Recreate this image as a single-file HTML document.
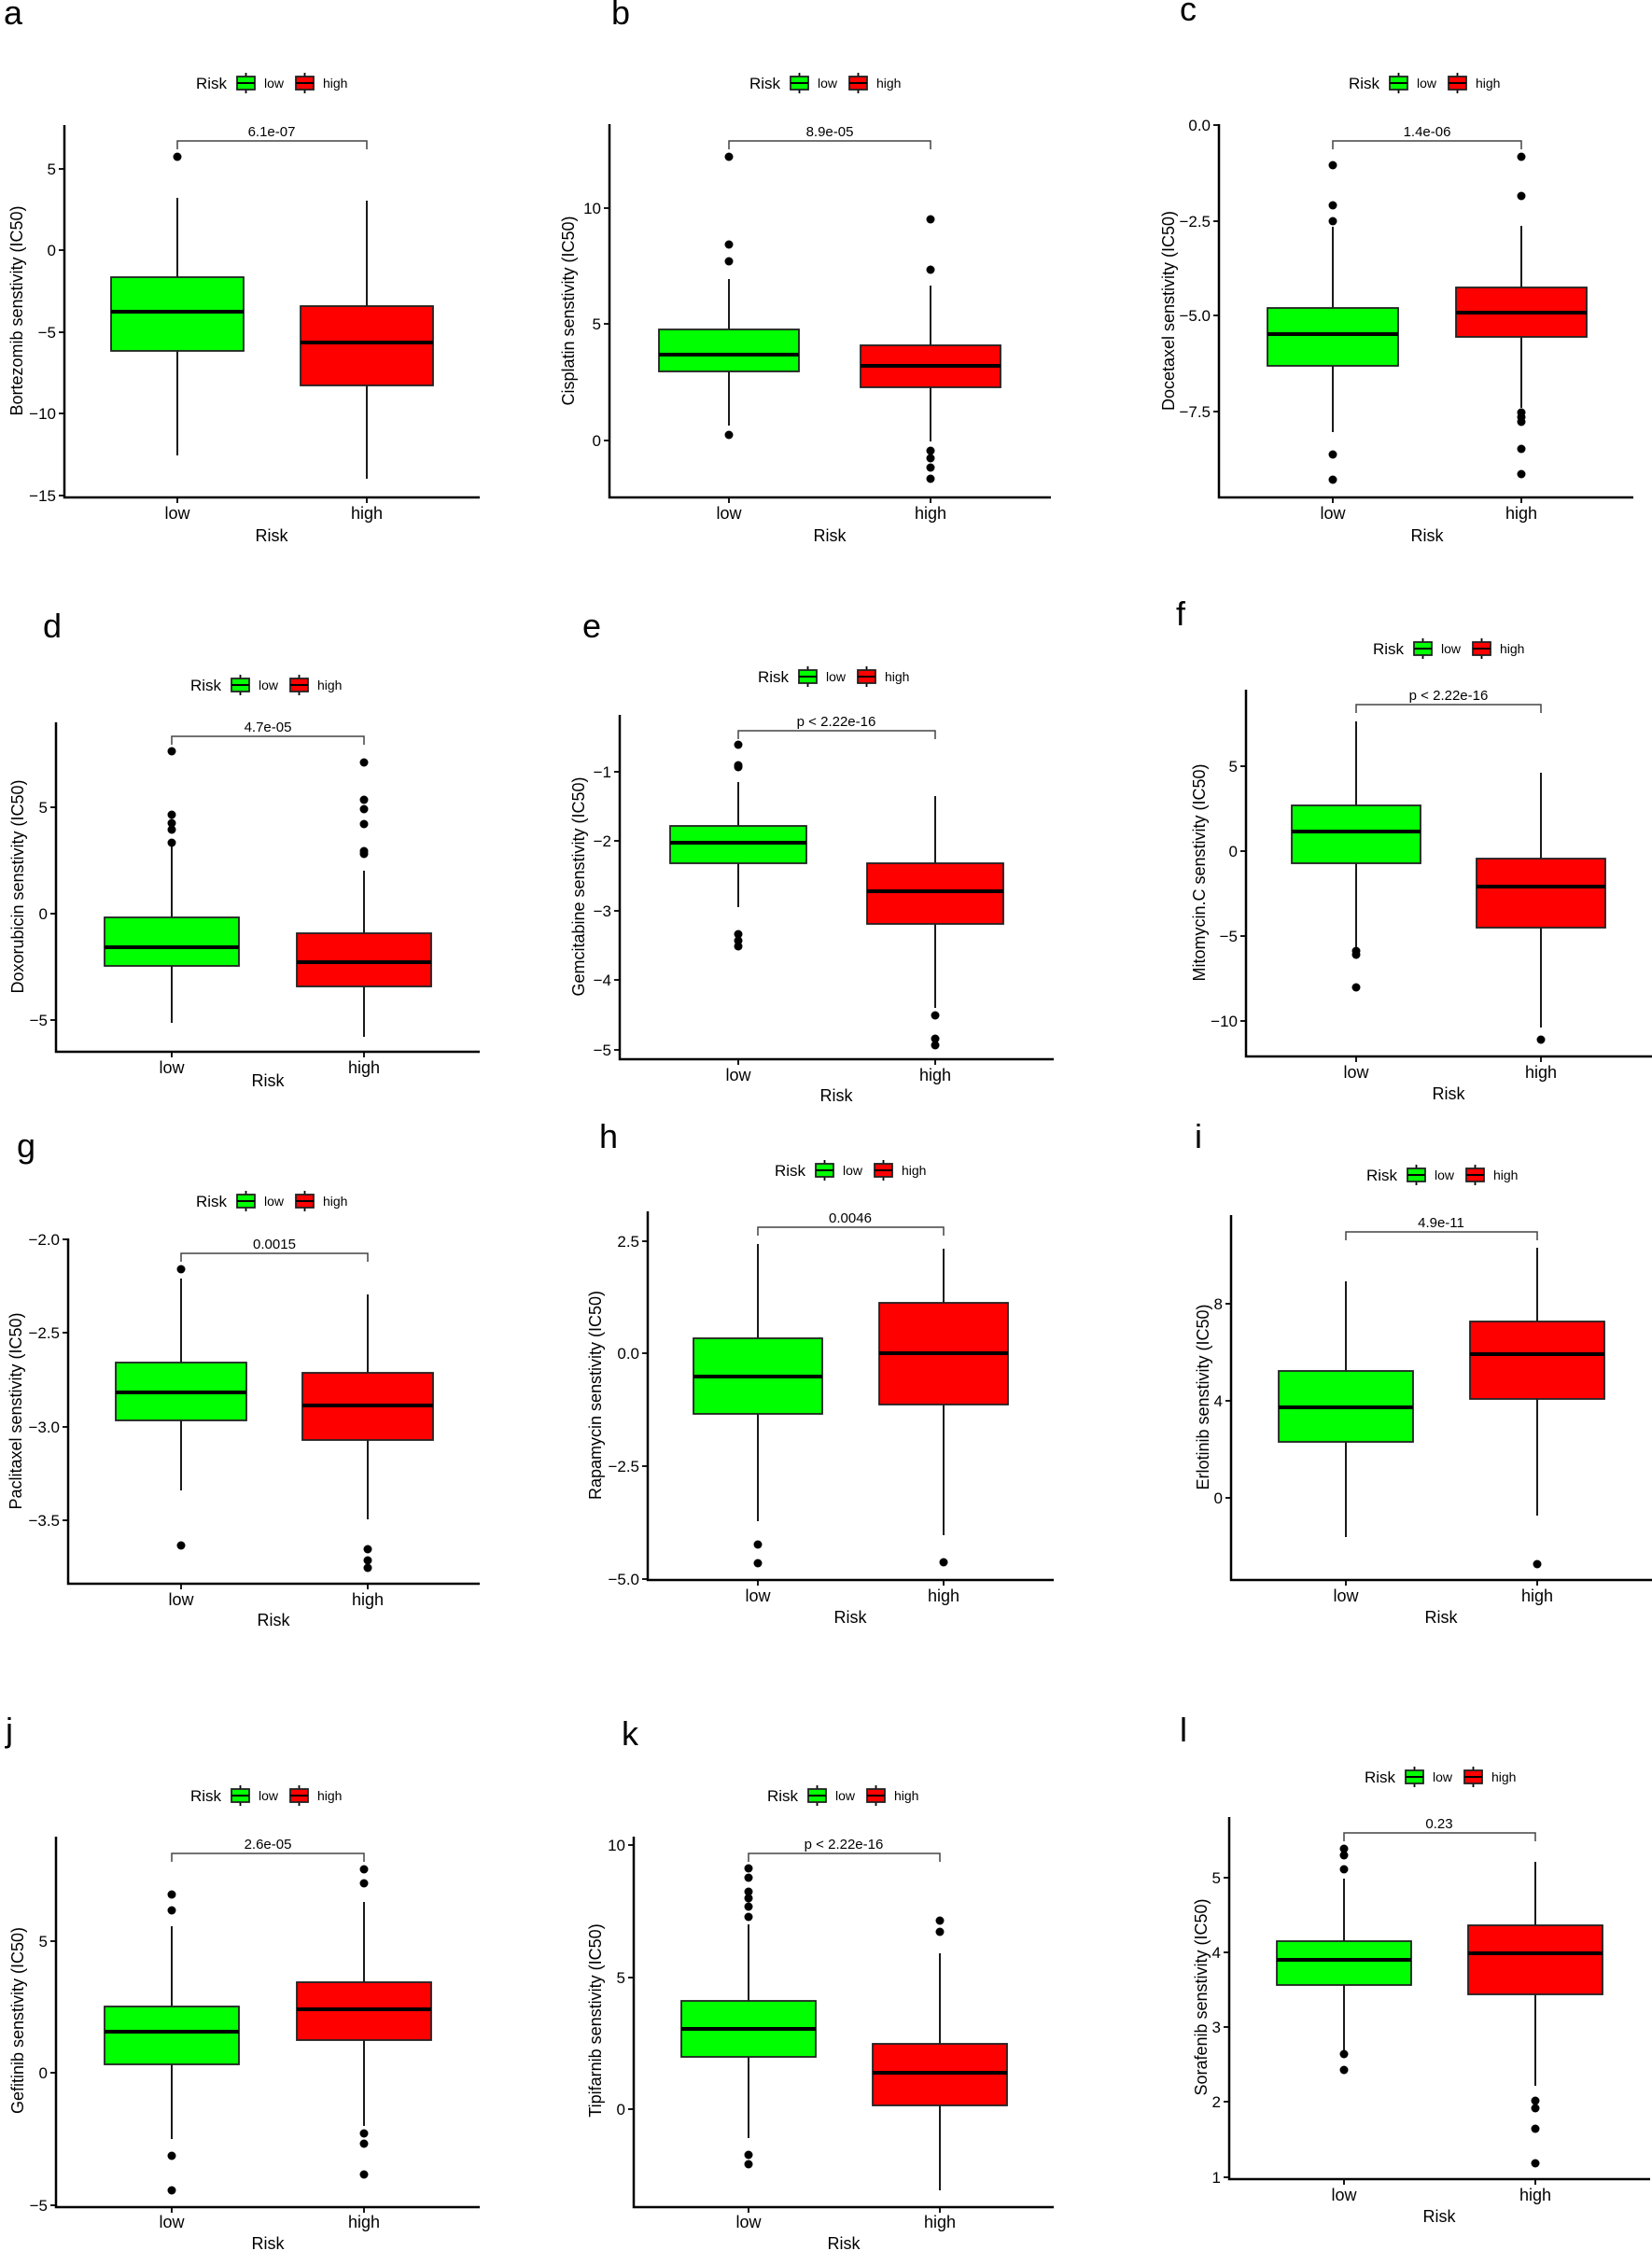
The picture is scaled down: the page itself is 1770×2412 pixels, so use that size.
<!DOCTYPE html>
<html><head><meta charset="utf-8"><style>
html,body{margin:0;padding:0;background:#fff}
svg{display:block}
text{font-family:"Liberation Sans",Arial,sans-serif;fill:#000}
.t{font-size:17px}
.yt{font-size:17px;text-anchor:end}
.xt{font-size:18px;text-anchor:middle}
.ttl{font-size:18px;text-anchor:middle}
.p{font-size:15px;text-anchor:middle}
.lab{font-size:36px}
.ax{stroke:#000;stroke-width:2.5;fill:none}
.w{stroke:#000;stroke-width:1.8}
.br{stroke:#444;stroke-width:1.5;fill:none}
.g{fill:#00ff00;stroke:#222;stroke-width:1.8}
.r{fill:#ff0000;stroke:#222;stroke-width:1.8}
.m{stroke:#000;stroke-width:4}
</style></head><body>
<svg width="1770" height="2412" viewBox="0 0 1770 2412" xmlns="http://www.w3.org/2000/svg">
<defs>
<g id="leg">
<line x1="53.5" y1="-11" x2="53.5" y2="11" class="w"/>
<rect x="44" y="-7" width="19" height="14" class="g"/><line x1="44" y1="0" x2="63" y2="0" stroke="#000" stroke-width="2"/>
<line x1="116.5" y1="-11" x2="116.5" y2="11" class="w"/>
<rect x="107" y="-7" width="19" height="14" class="r"/><line x1="107" y1="0" x2="126" y2="0" stroke="#000" stroke-width="2"/>
</g>
</defs>

<!-- Panel a -->
<text x="4" y="26" class="lab">a</text>
<use href="#leg" x="210" y="89"/><text x="210" y="95" class="t">Risk</text><text x="283" y="94" font-size="14">low</text><text x="346" y="94" font-size="14">high</text>
<path class="ax" d="M69 134 V533 H514"/>
<g class="w"><line x1="63" y1="181" x2="69" y2="181"/><line x1="63" y1="268" x2="69" y2="268"/><line x1="63" y1="356" x2="69" y2="356"/><line x1="63" y1="443" x2="69" y2="443"/><line x1="63" y1="531" x2="69" y2="531"/><line x1="190" y1="533" x2="190" y2="539"/><line x1="393" y1="533" x2="393" y2="539"/></g>
<text x="60" y="187" class="yt">5</text><text x="60" y="274" class="yt">0</text><text x="60" y="362" class="yt">−5</text><text x="60" y="449" class="yt">−10</text><text x="60" y="537" class="yt">−15</text>
<text x="190" y="556" class="xt">low</text><text x="393" y="556" class="xt">high</text><text x="291" y="580" class="ttl">Risk</text>
<text transform="translate(24,333) rotate(-90)" class="ttl">Bortezomib senstivity (IC50)</text>
<path class="br" d="M190 160 V151 H393 V160"/><text x="291" y="146" class="p">6.1e-07</text>
<line x1="190" y1="212" x2="190" y2="488" class="w"/><rect x="119" y="297" width="142" height="79" class="g"/><line x1="119" y1="334" x2="261" y2="334" class="m"/>
<line x1="393" y1="215" x2="393" y2="513" class="w"/><rect x="322" y="328" width="142" height="85" class="r"/><line x1="322" y1="367" x2="464" y2="367" class="m"/>
<circle cx="190" cy="168" r="4.5"/>

<!-- Panel b -->
<text x="655" y="26" class="lab">b</text>
<use href="#leg" x="803" y="89"/><text x="803" y="95" class="t">Risk</text><text x="876" y="94" font-size="14">low</text><text x="939" y="94" font-size="14">high</text>
<path class="ax" d="M653 133 V533 H1126"/>
<g class="w"><line x1="647" y1="223" x2="653" y2="223"/><line x1="647" y1="347" x2="653" y2="347"/><line x1="647" y1="472" x2="653" y2="472"/><line x1="781" y1="533" x2="781" y2="539"/><line x1="997" y1="533" x2="997" y2="539"/></g>
<text x="644" y="229" class="yt">10</text><text x="644" y="353" class="yt">5</text><text x="644" y="478" class="yt">0</text>
<text x="781" y="556" class="xt">low</text><text x="997" y="556" class="xt">high</text><text x="889" y="580" class="ttl">Risk</text>
<text transform="translate(615,333) rotate(-90)" class="ttl">Cisplatin senstivity (IC50)</text>
<path class="br" d="M781 160 V151 H997 V160"/><text x="889" y="146" class="p">8.9e-05</text>
<line x1="781" y1="299" x2="781" y2="456" class="w"/><rect x="706" y="353" width="150" height="45" class="g"/><line x1="706" y1="380" x2="856" y2="380" class="m"/>
<line x1="997" y1="306" x2="997" y2="473" class="w"/><rect x="922" y="370" width="150" height="45" class="r"/><line x1="922" y1="392" x2="1072" y2="392" class="m"/>
<circle cx="781" cy="168" r="4.5"/><circle cx="781" cy="262" r="4.5"/><circle cx="781" cy="280" r="4.5"/><circle cx="781" cy="466" r="4.5"/>
<circle cx="997" cy="235" r="4.5"/><circle cx="997" cy="289" r="4.5"/><circle cx="997" cy="483" r="4.5"/><circle cx="997" cy="491" r="4.5"/><circle cx="997" cy="501" r="4.5"/><circle cx="997" cy="513" r="4.5"/>

<!-- Panel c -->
<text x="1264" y="22" class="lab">c</text>
<use href="#leg" x="1445" y="89"/><text x="1445" y="95" class="t">Risk</text><text x="1518" y="94" font-size="14">low</text><text x="1581" y="94" font-size="14">high</text>
<path class="ax" d="M1306 133 V533 H1750"/>
<g class="w"><line x1="1300" y1="134" x2="1306" y2="134"/><line x1="1300" y1="237" x2="1306" y2="237"/><line x1="1300" y1="338" x2="1306" y2="338"/><line x1="1300" y1="441" x2="1306" y2="441"/><line x1="1428" y1="533" x2="1428" y2="539"/><line x1="1630" y1="533" x2="1630" y2="539"/></g>
<text x="1297" y="140" class="yt">0.0</text><text x="1297" y="243" class="yt">−2.5</text><text x="1297" y="344" class="yt">−5.0</text><text x="1297" y="447" class="yt">−7.5</text>
<text x="1428" y="556" class="xt">low</text><text x="1630" y="556" class="xt">high</text><text x="1529" y="580" class="ttl">Risk</text>
<text transform="translate(1258,333) rotate(-90)" class="ttl">Docetaxel senstivity (IC50)</text>
<path class="br" d="M1428 160 V151 H1630 V160"/><text x="1529" y="146" class="p">1.4e-06</text>
<line x1="1428" y1="243" x2="1428" y2="463" class="w"/><rect x="1358" y="330" width="140" height="62" class="g"/><line x1="1358" y1="358" x2="1498" y2="358" class="m"/>
<line x1="1630" y1="242" x2="1630" y2="437" class="w"/><rect x="1560" y="308" width="140" height="53" class="r"/><line x1="1560" y1="335" x2="1700" y2="335" class="m"/>
<circle cx="1428" cy="177" r="4.5"/><circle cx="1428" cy="220" r="4.5"/><circle cx="1428" cy="237" r="4.5"/><circle cx="1428" cy="487" r="4.5"/><circle cx="1428" cy="514" r="4.5"/>
<circle cx="1630" cy="168" r="4.5"/><circle cx="1630" cy="210" r="4.5"/><circle cx="1630" cy="442" r="4.5"/><circle cx="1630" cy="447" r="4.5"/><circle cx="1630" cy="452" r="4.5"/><circle cx="1630" cy="481" r="4.5"/><circle cx="1630" cy="508" r="4.5"/>

<!-- Panel d -->
<text x="46" y="683" class="lab">d</text>
<use href="#leg" x="204" y="734"/><text x="204" y="740" class="t">Risk</text><text x="277" y="739" font-size="14">low</text><text x="340" y="739" font-size="14">high</text>
<path class="ax" d="M60 774 V1127 H514"/>
<g class="w"><line x1="54" y1="865" x2="60" y2="865"/><line x1="54" y1="979" x2="60" y2="979"/><line x1="54" y1="1093" x2="60" y2="1093"/><line x1="184" y1="1127" x2="184" y2="1133"/><line x1="390" y1="1127" x2="390" y2="1133"/></g>
<text x="51" y="871" class="yt">5</text><text x="51" y="985" class="yt">0</text><text x="51" y="1099" class="yt">−5</text>
<text x="184" y="1150" class="xt">low</text><text x="390" y="1150" class="xt">high</text><text x="287" y="1164" class="ttl">Risk</text>
<text transform="translate(25,950) rotate(-90)" class="ttl">Doxorubicin senstivity (IC50)</text>
<path class="br" d="M184 798 V789 H390 V798"/><text x="287" y="784" class="p">4.7e-05</text>
<line x1="184" y1="903" x2="184" y2="1096" class="w"/><rect x="112" y="983" width="144" height="52" class="g"/><line x1="112" y1="1015" x2="256" y2="1015" class="m"/>
<line x1="390" y1="933" x2="390" y2="1111" class="w"/><rect x="318" y="1000" width="144" height="57" class="r"/><line x1="318" y1="1031" x2="462" y2="1031" class="m"/>
<circle cx="184" cy="805" r="4.5"/><circle cx="184" cy="873" r="4.5"/><circle cx="184" cy="882" r="4.5"/><circle cx="184" cy="889" r="4.5"/><circle cx="184" cy="903" r="4.5"/>
<circle cx="390" cy="817" r="4.5"/><circle cx="390" cy="857" r="4.5"/><circle cx="390" cy="867" r="4.5"/><circle cx="390" cy="883" r="4.5"/><circle cx="390" cy="912" r="4.5"/><circle cx="390" cy="915" r="4.5"/>

<!-- Panel e -->
<text x="624" y="683" class="lab">e</text>
<use href="#leg" x="812" y="725"/><text x="812" y="731" class="t">Risk</text><text x="885" y="730" font-size="14">low</text><text x="948" y="730" font-size="14">high</text>
<path class="ax" d="M664 766 V1135 H1129"/>
<g class="w"><line x1="658" y1="827" x2="664" y2="827"/><line x1="658" y1="901" x2="664" y2="901"/><line x1="658" y1="976" x2="664" y2="976"/><line x1="658" y1="1050" x2="664" y2="1050"/><line x1="658" y1="1125" x2="664" y2="1125"/><line x1="791" y1="1135" x2="791" y2="1141"/><line x1="1002" y1="1135" x2="1002" y2="1141"/></g>
<text x="655" y="833" class="yt">−1</text><text x="655" y="907" class="yt">−2</text><text x="655" y="982" class="yt">−3</text><text x="655" y="1056" class="yt">−4</text><text x="655" y="1131" class="yt">−5</text>
<text x="791" y="1158" class="xt">low</text><text x="1002" y="1158" class="xt">high</text><text x="896" y="1180" class="ttl">Risk</text>
<text transform="translate(626,950) rotate(-90)" class="ttl">Gemcitabine senstivity (IC50)</text>
<path class="br" d="M791 792 V783 H1002 V792"/><text x="896" y="778" class="p">p &lt; 2.22e-16</text>
<line x1="791" y1="838" x2="791" y2="972" class="w"/><rect x="718" y="885" width="146" height="40" class="g"/><line x1="718" y1="903" x2="864" y2="903" class="m"/>
<line x1="1002" y1="853" x2="1002" y2="1080" class="w"/><rect x="929" y="925" width="146" height="65" class="r"/><line x1="929" y1="955" x2="1075" y2="955" class="m"/>
<circle cx="791" cy="798" r="4.5"/><circle cx="791" cy="820" r="4.5"/><circle cx="791" cy="822" r="4.5"/><circle cx="791" cy="1001" r="4.5"/><circle cx="791" cy="1008" r="4.5"/><circle cx="791" cy="1014" r="4.5"/>
<circle cx="1002" cy="1088" r="4.5"/><circle cx="1002" cy="1113" r="4.5"/><circle cx="1002" cy="1120" r="4.5"/>

<!-- Panel f -->
<text x="1260" y="670" class="lab">f</text>
<use href="#leg" x="1471" y="695"/><text x="1471" y="701" class="t">Risk</text><text x="1544" y="700" font-size="14">low</text><text x="1607" y="700" font-size="14">high</text>
<path class="ax" d="M1335 739 V1132 H1770"/>
<g class="w"><line x1="1329" y1="821" x2="1335" y2="821"/><line x1="1329" y1="912" x2="1335" y2="912"/><line x1="1329" y1="1003" x2="1335" y2="1003"/><line x1="1329" y1="1094" x2="1335" y2="1094"/><line x1="1453" y1="1132" x2="1453" y2="1138"/><line x1="1651" y1="1132" x2="1651" y2="1138"/></g>
<text x="1326" y="827" class="yt">5</text><text x="1326" y="918" class="yt">0</text><text x="1326" y="1009" class="yt">−5</text><text x="1326" y="1100" class="yt">−10</text>
<text x="1453" y="1155" class="xt">low</text><text x="1651" y="1155" class="xt">high</text><text x="1552" y="1178" class="ttl">Risk</text>
<text transform="translate(1291,935) rotate(-90)" class="ttl">Mitomycin.C senstivity (IC50)</text>
<path class="br" d="M1453 764 V755 H1651 V764"/><text x="1552" y="750" class="p">p &lt; 2.22e-16</text>
<line x1="1453" y1="773" x2="1453" y2="1016" class="w"/><rect x="1384" y="863" width="138" height="62" class="g"/><line x1="1384" y1="891" x2="1522" y2="891" class="m"/>
<line x1="1651" y1="828" x2="1651" y2="1101" class="w"/><rect x="1582" y="920" width="138" height="74" class="r"/><line x1="1582" y1="950" x2="1720" y2="950" class="m"/>
<circle cx="1453" cy="1019" r="4.5"/><circle cx="1453" cy="1023" r="4.5"/><circle cx="1453" cy="1058" r="4.5"/><circle cx="1651" cy="1114" r="4.5"/>

<!-- Panel g -->
<text x="18" y="1240" class="lab">g</text>
<use href="#leg" x="210" y="1287"/><text x="210" y="1293" class="t">Risk</text><text x="283" y="1292" font-size="14">low</text><text x="346" y="1292" font-size="14">high</text>
<path class="ax" d="M73 1327 V1697 H514"/>
<g class="w"><line x1="67" y1="1328" x2="73" y2="1328"/><line x1="67" y1="1428" x2="73" y2="1428"/><line x1="67" y1="1529" x2="73" y2="1529"/><line x1="67" y1="1629" x2="73" y2="1629"/><line x1="194" y1="1697" x2="194" y2="1703"/><line x1="394" y1="1697" x2="394" y2="1703"/></g>
<text x="64" y="1334" class="yt">−2.0</text><text x="64" y="1434" class="yt">−2.5</text><text x="64" y="1535" class="yt">−3.0</text><text x="64" y="1635" class="yt">−3.5</text>
<text x="194" y="1720" class="xt">low</text><text x="394" y="1720" class="xt">high</text><text x="293" y="1742" class="ttl">Risk</text>
<text transform="translate(23,1512) rotate(-90)" class="ttl">Paclitaxel senstivity (IC50)</text>
<path class="br" d="M194 1352 V1343 H394 V1352"/><text x="294" y="1338" class="p">0.0015</text>
<line x1="194" y1="1370" x2="194" y2="1597" class="w"/><rect x="124" y="1460" width="140" height="62" class="g"/><line x1="124" y1="1492" x2="264" y2="1492" class="m"/>
<line x1="394" y1="1387" x2="394" y2="1628" class="w"/><rect x="324" y="1471" width="140" height="72" class="r"/><line x1="324" y1="1506" x2="464" y2="1506" class="m"/>
<circle cx="194" cy="1360" r="4.5"/><circle cx="194" cy="1656" r="4.5"/><circle cx="394" cy="1660" r="4.5"/><circle cx="394" cy="1672" r="4.5"/><circle cx="394" cy="1680" r="4.5"/>

<!-- Panel h -->
<text x="642" y="1230" class="lab">h</text>
<use href="#leg" x="830" y="1254"/><text x="830" y="1260" class="t">Risk</text><text x="903" y="1259" font-size="14">low</text><text x="966" y="1259" font-size="14">high</text>
<path class="ax" d="M694 1298 V1693 H1129"/>
<g class="w"><line x1="688" y1="1330" x2="694" y2="1330"/><line x1="688" y1="1450" x2="694" y2="1450"/><line x1="688" y1="1571" x2="694" y2="1571"/><line x1="688" y1="1692" x2="694" y2="1692"/><line x1="812" y1="1693" x2="812" y2="1699"/><line x1="1011" y1="1693" x2="1011" y2="1699"/></g>
<text x="685" y="1336" class="yt">2.5</text><text x="685" y="1456" class="yt">0.0</text><text x="685" y="1577" class="yt">−2.5</text><text x="685" y="1698" class="yt">−5.0</text>
<text x="812" y="1716" class="xt">low</text><text x="1011" y="1716" class="xt">high</text><text x="911" y="1739" class="ttl">Risk</text>
<text transform="translate(644,1495) rotate(-90)" class="ttl">Rapamycin senstivity (IC50)</text>
<path class="br" d="M812 1324 V1315 H1011 V1324"/><text x="911" y="1310" class="p">0.0046</text>
<line x1="812" y1="1333" x2="812" y2="1630" class="w"/><rect x="743" y="1434" width="138" height="81" class="g"/><line x1="743" y1="1475" x2="881" y2="1475" class="m"/>
<line x1="1011" y1="1338" x2="1011" y2="1645" class="w"/><rect x="942" y="1396" width="138" height="109" class="r"/><line x1="942" y1="1450" x2="1080" y2="1450" class="m"/>
<circle cx="812" cy="1655" r="4.5"/><circle cx="812" cy="1675" r="4.5"/><circle cx="1011" cy="1674" r="4.5"/>

<!-- Panel i -->
<text x="1280" y="1230" class="lab">i</text>
<use href="#leg" x="1464" y="1259"/><text x="1464" y="1265" class="t">Risk</text><text x="1537" y="1264" font-size="14">low</text><text x="1600" y="1264" font-size="14">high</text>
<path class="ax" d="M1319 1302 V1693 H1770"/>
<g class="w"><line x1="1313" y1="1397" x2="1319" y2="1397"/><line x1="1313" y1="1501" x2="1319" y2="1501"/><line x1="1313" y1="1605" x2="1319" y2="1605"/><line x1="1442" y1="1693" x2="1442" y2="1699"/><line x1="1647" y1="1693" x2="1647" y2="1699"/></g>
<text x="1310" y="1403" class="yt">8</text><text x="1310" y="1507" class="yt">4</text><text x="1310" y="1611" class="yt">0</text>
<text x="1442" y="1716" class="xt">low</text><text x="1647" y="1716" class="xt">high</text><text x="1544" y="1739" class="ttl">Risk</text>
<text transform="translate(1295,1497) rotate(-90)" class="ttl">Erlotinib senstivity (IC50)</text>
<path class="br" d="M1442 1329 V1320 H1647 V1329"/><text x="1544" y="1315" class="p">4.9e-11</text>
<line x1="1442" y1="1373" x2="1442" y2="1647" class="w"/><rect x="1370" y="1469" width="144" height="76" class="g"/><line x1="1370" y1="1508" x2="1514" y2="1508" class="m"/>
<line x1="1647" y1="1337" x2="1647" y2="1624" class="w"/><rect x="1575" y="1416" width="144" height="83" class="r"/><line x1="1575" y1="1451" x2="1719" y2="1451" class="m"/>
<circle cx="1647" cy="1676" r="4.5"/>

<!-- Panel j -->
<text x="6" y="1866" class="lab">j</text>
<use href="#leg" x="204" y="1924"/><text x="204" y="1930" class="t">Risk</text><text x="277" y="1929" font-size="14">low</text><text x="340" y="1929" font-size="14">high</text>
<path class="ax" d="M60 1968 V2365 H514"/>
<g class="w"><line x1="54" y1="2080" x2="60" y2="2080"/><line x1="54" y1="2221" x2="60" y2="2221"/><line x1="54" y1="2363" x2="60" y2="2363"/><line x1="184" y1="2365" x2="184" y2="2371"/><line x1="390" y1="2365" x2="390" y2="2371"/></g>
<text x="51" y="2086" class="yt">5</text><text x="51" y="2227" class="yt">0</text><text x="51" y="2369" class="yt">−5</text>
<text x="184" y="2387" class="xt">low</text><text x="390" y="2387" class="xt">high</text><text x="287" y="2410" class="ttl">Risk</text>
<text transform="translate(25,2165) rotate(-90)" class="ttl">Gefitinib senstivity (IC50)</text>
<path class="br" d="M184 1995 V1986 H390 V1995"/><text x="287" y="1981" class="p">2.6e-05</text>
<line x1="184" y1="2064" x2="184" y2="2292" class="w"/><rect x="112" y="2150" width="144" height="62" class="g"/><line x1="112" y1="2177" x2="256" y2="2177" class="m"/>
<line x1="390" y1="2038" x2="390" y2="2278" class="w"/><rect x="318" y="2124" width="144" height="62" class="r"/><line x1="318" y1="2153" x2="462" y2="2153" class="m"/>
<circle cx="184" cy="2030" r="4.5"/><circle cx="184" cy="2047" r="4.5"/><circle cx="184" cy="2310" r="4.5"/><circle cx="184" cy="2347" r="4.5"/>
<circle cx="390" cy="2003" r="4.5"/><circle cx="390" cy="2018" r="4.5"/><circle cx="390" cy="2286" r="4.5"/><circle cx="390" cy="2297" r="4.5"/><circle cx="390" cy="2330" r="4.5"/>

<!-- Panel k -->
<text x="666" y="1870" class="lab">k</text>
<use href="#leg" x="822" y="1924"/><text x="822" y="1930" class="t">Risk</text><text x="895" y="1929" font-size="14">low</text><text x="958" y="1929" font-size="14">high</text>
<path class="ax" d="M679 1968 V2365 H1129"/>
<g class="w"><line x1="673" y1="1977" x2="679" y2="1977"/><line x1="673" y1="2119" x2="679" y2="2119"/><line x1="673" y1="2260" x2="679" y2="2260"/><line x1="802" y1="2365" x2="802" y2="2371"/><line x1="1007" y1="2365" x2="1007" y2="2371"/></g>
<text x="670" y="1983" class="yt">10</text><text x="670" y="2125" class="yt">5</text><text x="670" y="2266" class="yt">0</text>
<text x="802" y="2387" class="xt">low</text><text x="1007" y="2387" class="xt">high</text><text x="904" y="2410" class="ttl">Risk</text>
<text transform="translate(644,2165) rotate(-90)" class="ttl">Tipifarnib senstivity (IC50)</text>
<path class="br" d="M802 1995 V1986 H1007 V1995"/><text x="904" y="1981" class="p">p &lt; 2.22e-16</text>
<line x1="802" y1="2062" x2="802" y2="2291" class="w"/><rect x="730" y="2144" width="144" height="60" class="g"/><line x1="730" y1="2174" x2="874" y2="2174" class="m"/>
<line x1="1007" y1="2093" x2="1007" y2="2347" class="w"/><rect x="935" y="2190" width="144" height="66" class="r"/><line x1="935" y1="2221" x2="1079" y2="2221" class="m"/>
<circle cx="802" cy="2002" r="4.5"/><circle cx="802" cy="2012" r="4.5"/><circle cx="802" cy="2027" r="4.5"/><circle cx="802" cy="2034" r="4.5"/><circle cx="802" cy="2043" r="4.5"/><circle cx="802" cy="2054" r="4.5"/><circle cx="802" cy="2309" r="4.5"/><circle cx="802" cy="2319" r="4.5"/>
<circle cx="1007" cy="2058" r="4.5"/><circle cx="1007" cy="2070" r="4.5"/>

<!-- Panel l -->
<text x="1264" y="1866" class="lab">l</text>
<use href="#leg" x="1462" y="1904"/><text x="1462" y="1910" class="t">Risk</text><text x="1535" y="1909" font-size="14">low</text><text x="1598" y="1909" font-size="14">high</text>
<path class="ax" d="M1317 1947 V2335 H1768"/>
<g class="w"><line x1="1311" y1="2012" x2="1317" y2="2012"/><line x1="1311" y1="2092" x2="1317" y2="2092"/><line x1="1311" y1="2172" x2="1317" y2="2172"/><line x1="1311" y1="2252" x2="1317" y2="2252"/><line x1="1311" y1="2333" x2="1317" y2="2333"/><line x1="1440" y1="2335" x2="1440" y2="2341"/><line x1="1645" y1="2335" x2="1645" y2="2341"/></g>
<text x="1308" y="2018" class="yt">5</text><text x="1308" y="2098" class="yt">4</text><text x="1308" y="2178" class="yt">3</text><text x="1308" y="2258" class="yt">2</text><text x="1308" y="2339" class="yt">1</text>
<text x="1440" y="2358" class="xt">low</text><text x="1645" y="2358" class="xt">high</text><text x="1542" y="2381" class="ttl">Risk</text>
<text transform="translate(1293,2140) rotate(-90)" class="ttl">Sorafenib senstivity (IC50)</text>
<path class="br" d="M1440 1973 V1964 H1645 V1973"/><text x="1542" y="1959" class="p">0.23</text>
<line x1="1440" y1="2013" x2="1440" y2="2200" class="w"/><rect x="1368" y="2080" width="144" height="47" class="g"/><line x1="1368" y1="2100" x2="1512" y2="2100" class="m"/>
<line x1="1645" y1="1995" x2="1645" y2="2235" class="w"/><rect x="1573" y="2063" width="144" height="74" class="r"/><line x1="1573" y1="2093" x2="1717" y2="2093" class="m"/>
<circle cx="1440" cy="1981" r="4.5"/><circle cx="1440" cy="1988" r="4.5"/><circle cx="1440" cy="2003" r="4.5"/><circle cx="1440" cy="2201" r="4.5"/><circle cx="1440" cy="2218" r="4.5"/>
<circle cx="1645" cy="2251" r="4.5"/><circle cx="1645" cy="2259" r="4.5"/><circle cx="1645" cy="2281" r="4.5"/><circle cx="1645" cy="2318" r="4.5"/>
</svg>
</body></html>
